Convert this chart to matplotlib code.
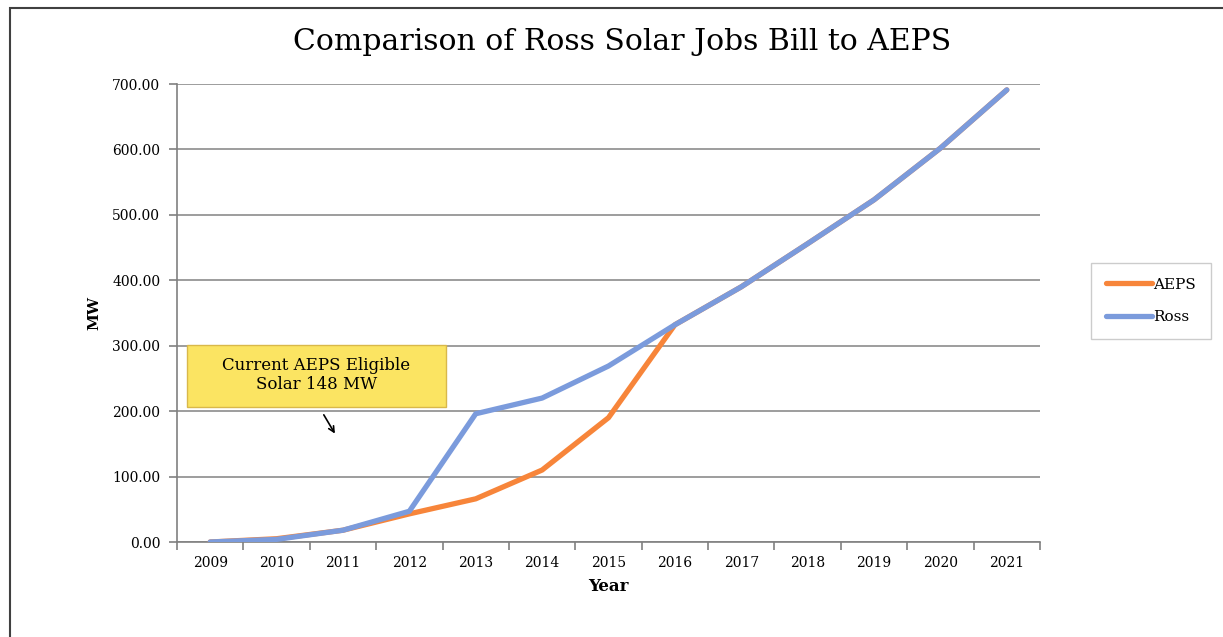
import numpy as np
import matplotlib.pyplot as plt
from matplotlib.patches import Rectangle

years = ["2009", "2010", "2011", "2012", "2013", "2014", "2015",
         "2016", "2017", "2018", "2019", "2020", "2021"]
aeps = [0, 5, 18, 43, 66, 110, 190, 332, 390, 456, 523, 602, 691]
ross = [0, 4, 18, 47, 196, 220, 269, 332, 390, 456, 523, 602, 691]
y_ticks = [0, 100, 200, 300, 400, 500, 600, 700]

serif = ["DejaVu Serif"]
plt.rcParams["font.family"] = serif

fig = plt.figure(figsize=(12.23, 6.37), dpi=100)
ax = fig.add_axes([177 / 1223, 95 / 637, 863 / 1223, 458 / 637])

# outer frame of the chart area
fig.patches.append(Rectangle((10 / 1223, -0.05), 1.1, 1 - 8 / 637 + 0.05,
                             transform=fig.transFigure, fill=False,
                             edgecolor="#404040", linewidth=1.5))

x = np.arange(len(years))
ax.plot(x, aeps, color="#F7853A", linewidth=3.8, label="AEPS",
        solid_capstyle="round", zorder=3)
ax.plot(x, ross, color="#7B9BDC", linewidth=3.8, label="Ross",
        solid_capstyle="round", zorder=4)

ax.set_xlim(-0.5, len(years) - 0.5)
ax.set_ylim(0, 700)
ax.set_yticks(y_ticks)
ax.set_yticklabels([f"{v:.2f}" for v in y_ticks], fontsize=10)
ax.yaxis.grid(True, color="#8c8c8c", linewidth=1.2)
ax.set_axisbelow(True)

# ticks between categories, labels at centres
ax.set_xticks(np.arange(-0.5, len(years)), labels=[""] * (len(years) + 1))
ax.set_xticks(x, labels=years, minor=True)
ax.tick_params(axis="x", which="major", length=6, color="#808080", width=1.2)
ax.tick_params(axis="x", which="minor", length=0, labelsize=10, pad=10)
ax.tick_params(axis="y", length=6, color="#808080", width=1.2, pad=6)

for side in ["top", "right"]:
    ax.spines[side].set_visible(False)
for side in ["left", "bottom"]:
    ax.spines[side].set_color("#808080")
    ax.spines[side].set_linewidth(1.2)

ax.set_xlabel("Year", fontsize=12, fontweight="bold", labelpad=6)
ax.set_ylabel("MW", fontsize=11, fontweight="bold", labelpad=8)
fig.text(622 / 1223, 1 - 42 / 637, "Comparison of Ross Solar Jobs Bill to AEPS",
         ha="center", va="center", fontsize=21.5)

# callout box
ax.add_patch(Rectangle((-0.35, 206), 3.9, 95, facecolor="#FBE462",
                       edgecolor="#D9B84A", linewidth=1, zorder=5,
                       clip_on=False))
ax.text(1.6, 255, "Current AEPS Eligible\nSolar 148 MW", ha="center",
        va="center", fontsize=12, linespacing=1.15, zorder=6)
ax.annotate("", xy=(1.9, 162), xytext=(1.69, 198),
            arrowprops=dict(arrowstyle="->", color="black", linewidth=1.2))

ax.legend(loc="center left", bbox_to_anchor=(1083 / 1223, 1 - 301 / 637),
          bbox_transform=fig.transFigure, frameon=True, fancybox=False,
          edgecolor="#c0c0c0", fontsize=11, handlelength=3.0,
          handletextpad=0.1, borderpad=1.0, labelspacing=1.2)

fig.savefig("out.png", dpi=100)
